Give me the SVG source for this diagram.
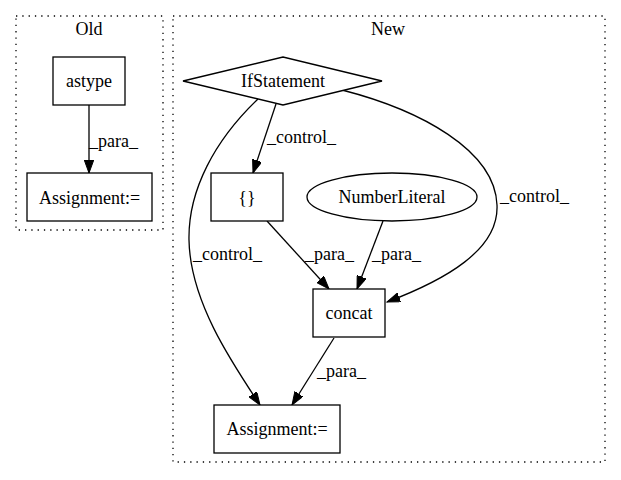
<svg xmlns="http://www.w3.org/2000/svg" width="621" height="480" viewBox="0 0 621 480">
<style>
.c{text-anchor:middle}
.cl{fill:none;stroke:#000;stroke-width:1.3;stroke-dasharray:1.3,5}
.n{fill:#fff;stroke:#000;stroke-width:1.3}
.e{fill:none;stroke:#000;stroke-width:1.3;marker-end:url(#ah)}
</style>
<defs>
<marker id="ah" markerUnits="userSpaceOnUse" markerWidth="14" markerHeight="10" refX="13" refY="4.75" orient="auto">
<path d="M0,0 L13,4.75 L0,9.5 z" fill="#000" stroke="#000" stroke-width="1"/>
</marker>
</defs>
<rect width="621" height="480" fill="#fff"/>
<g font-family="Liberation Serif, DejaVu Serif, serif" font-size="18" fill="#000">
<g id="cluster_old">
<rect class="cl" x="16" y="16" width="147" height="214"/>
<text class="c" x="89" y="35">Old</text>
</g>
<g id="cluster_new">
<rect class="cl" x="173" y="16" width="432" height="446"/>
<text class="c" x="388" y="35">New</text>
</g>
<g id="connectors">
<path class="e" d="M89,105 L89,173"/>
<text x="89" y="147">_para_</text>
<path class="e" d="M276,104 L253,173"/>
<text x="267" y="143">_control_</text>
<path class="e" d="M267,221 L329,289"/>
<text x="305" y="260">_para_</text>
<path class="e" d="M383,221 L357,289"/>
<text x="372" y="260">_para_</text>
<path class="e" d="M342,90 C420,110 495,150 497,205 C499,250 445,280 387,302"/>
<text x="500" y="202">_control_</text>
<path class="e" d="M258,99 C215,140 188,190 189,240 C190,300 230,360 260,405"/>
<text x="193" y="260">_control_</text>
<path class="e" d="M334,338 L292,405"/>
<text x="317" y="377">_para_</text>
</g>
<g id="astype">
<rect class="n" x="53" y="57" width="72" height="48"/>
<text class="c" x="89" y="87">astype</text>
</g>
<g id="assignment_old">
<rect class="n" x="27" y="173" width="125" height="48"/>
<text class="c" x="89.5" y="204">Assignment:=</text>
</g>
<g id="ifstatement">
<polygon class="n" points="183,81 283,57 382,81 283,105"/>
<text class="c" x="283" y="87">IfStatement</text>
</g>
<g id="braces">
<rect class="n" x="211" y="173" width="72" height="48"/>
<text class="c" x="247" y="204">{}</text>
</g>
<g id="numberliteral">
<ellipse class="n" cx="392" cy="197" rx="85" ry="24"/>
<text class="c" x="392" y="203">NumberLiteral</text>
</g>
<g id="concat">
<rect class="n" x="313" y="289" width="72" height="48"/>
<text class="c" x="349" y="319">concat</text>
</g>
<g id="assignment_new">
<rect class="n" x="214" y="405" width="126" height="48"/>
<text class="c" x="277" y="435">Assignment:=</text>
</g>
</g>
</svg>
